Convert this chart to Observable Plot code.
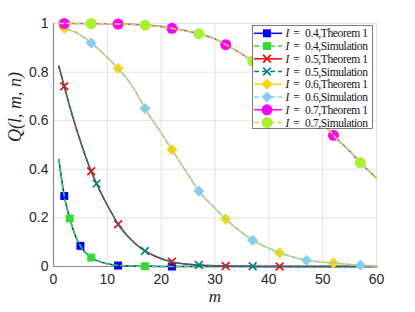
<!DOCTYPE html>
<html><head><meta charset="utf-8">
<script src="https://cdn.jsdelivr.net/npm/d3@7"></script>
<script src="https://cdn.jsdelivr.net/npm/@observablehq/plot@0.6"></script>
<style>
body{margin:0;background:#fff}
#wrap{position:relative;width:415px;height:312px}
#legend{position:absolute;left:252px;top:25px}
</style>
</head><body><div id="wrap"></div>
<script>
// ---- data ----
const xTicks = [0, 10, 20, 30, 40, 50, 60];
const yTicks = [0, 0.2, 0.4, 0.6, 0.8, 1];
const yTickLabels = ["0", "0.2", "0.4", "0.6", "0.8", "1"];

// curves [m, Q]
const curve04 = [[1,0.44],[2,0.29],[3,0.2],[4,0.13],[5,0.085],[6,0.056],[7,0.037],[8,0.025],[9,0.017],[10,0.011],[12,0.005],[14,0.002],[17,0.001],[20,0],[30,0],[45,0],[60,0]];
const curve05 = [[1,0.824],[2,0.742],[3,0.66],[4,0.585],[5,0.515],[6,0.45],[7,0.392],[8,0.341],[9,0.295],[10,0.252],[11,0.212],[12,0.174],[13,0.145],[14,0.12],[15,0.098],[16,0.08],[17,0.064],[19,0.041],[22,0.019],[25,0.009],[27,0.006],[30,0.003],[35,0.001],[40,0],[50,0],[60,0]];
const curve06 = [[1,0.99],[2,0.98],[4,0.965],[7,0.92],[10,0.86],[12,0.815],[15,0.73],[17,0.65],[20,0.55],[22,0.481],[25,0.378],[27,0.311],[30,0.24],[32,0.195],[35,0.14],[37,0.108],[40,0.075],[42,0.056],[45,0.036],[47,0.026],[50,0.018],[52,0.014],[55,0.008],[57,0.005],[60,0.002]];
const curve07 = [[1,1.0],[5,1.0],[10,0.999],[15,0.996],[20,0.988],[22,0.98],[25,0.968],[27,0.958],[30,0.937],[32,0.913],[35,0.874],[37,0.845],[40,0.8],[42,0.765],[45,0.71],[47,0.66],[50,0.59],[52,0.54],[55,0.475],[57,0.428],[60,0.363]];

// markers
const thM04 = [2, 5, 12, 22],            thQ04 = [0.29, 0.085, 0.004, 0];
const simM04 = [3, 7, 17],               simQ04 = [0.198, 0.037, 0.001];
const thM05 = [2, 7, 12, 22, 32, 42],    thQ05 = [0.742, 0.392, 0.174, 0.02, 0.002, 0];
const simM05 = [8, 17, 27, 37],          simQ05 = [0.341, 0.064, 0.006, 0.001];
const thM06 = [2, 12, 22, 32, 42, 52],   thQ06 = [0.98, 0.815, 0.481, 0.195, 0.056, 0.014];
const simM06 = [7, 17, 27, 37, 47, 57],  simQ06 = [0.92, 0.65, 0.311, 0.108, 0.026, 0.005];
const thM07 = [2, 12, 22, 32, 42, 52],   thQ07 = [1.0, 0.998, 0.98, 0.913, 0.765, 0.54];
const simM07 = [7, 17, 27, 37, 47, 57],  simQ07 = [1.0, 0.993, 0.958, 0.845, 0.66, 0.428];

const legendLabels = ["0.4,Theorem 1","0.4,Simulation","0.5,Theorem 1","0.5,Simulation","0.6,Theorem 1","0.6,Simulation","0.7,Theorem 1","0.7,Simulation"];

// ---- styles ----
const zip = (a, b) => a.map((v, i) => [v, b[i]]);
const series = [
  {curve: curve04, pts: zip(thM04, thQ04),  color: "#0000ff", symbol: "square",   r: 4.5, dash: null},
  {curve: curve04, pts: zip(simM04, simQ04),color: "#33dd33", symbol: "square",   r: 4.5, dash: "5,3"},
  {curve: curve05, pts: zip(thM05, thQ05),  color: "#ff0000", symbol: "times",    r: 3.6, dash: null},
  {curve: curve05, pts: zip(simM05, simQ05),color: "#008080", symbol: "times",    r: 3.6, dash: "5,3"},
  {curve: curve06, pts: zip(thM06, thQ06),  color: "#ffd700", symbol: "diamond2", r: 5.0, dash: null},
  {curve: curve06, pts: zip(simM06, simQ06),color: "#87ceeb", symbol: "diamond2", r: 5.0, dash: "5,3"},
  {curve: curve07, pts: zip(thM07, thQ07),  color: "#ff00ff", symbol: "circle",   r: 5.5, dash: null},
  {curve: curve07, pts: zip(simM07, simQ07),color: "#a8f030", symbol: "circle",   r: 5.5, dash: "5,3"}
];

const marks = [
  Plot.gridX(xTicks.slice(1), {stroke: "#e3e3e3", strokeOpacity: 1}),
  Plot.gridY(yTicks.slice(1), {stroke: "#e3e3e3", strokeOpacity: 1}),
  Plot.ruleX([0], {y1: 0, y2: 1, stroke: "#8a8a8a", strokeWidth: 1.2}),
  Plot.ruleY([0], {x1: 0, x2: 60, stroke: "#8a8a8a", strokeWidth: 1.2}),
  Plot.axisX({ticks: xTicks, tickSize: 0, tickPadding: 8, label: null, fontSize: 14, fontFamily: "Liberation Sans", fill: "#262626"}),
  Plot.axisY({ticks: yTicks, tickFormat: (d, i) => yTickLabels[i], tickSize: 0, tickPadding: 5, label: null, fontSize: 14, fontFamily: "Liberation Sans", fill: "#262626"})
];
for (const s of series) {
  marks.push(Plot.line(s.curve, {x: d => d[0], y: d => d[1], stroke: s.color, strokeWidth: 1.5, curve: "monotone-x", strokeDasharray: s.dash ?? undefined}));
  const stroked = s.symbol === "times";
  marks.push(Plot.dot(s.pts, {x: d => d[0], y: d => d[1], symbol: s.symbol, r: s.r,
    fill: stroked ? "none" : s.color, stroke: stroked ? s.color : "none", strokeWidth: stroked ? 1.6 : 0}));
}
marks.push(Plot.text(["Q(l, m, n)"], {frameAnchor: "left", dx: -38, dy: -3, rotate: -90, fontSize: 18, fontStyle: "italic", fontFamily: "Liberation Serif", fill: "#262626"}));
marks.push(Plot.text(["m"], {frameAnchor: "bottom", dy: 35, fontSize: 17, fontStyle: "italic", fontFamily: "Liberation Serif", fill: "#262626"}));

const chart = Plot.plot({
  width: 415, height: 312,
  marginLeft: 53, marginRight: 39, marginTop: 23, marginBottom: 46,
  x: {domain: [0, 60]},
  y: {domain: [0, 1]},
  style: {background: "#fff", overflow: "visible"},
  marks
});
const wrap = document.getElementById("wrap");
wrap.appendChild(chart);

// ---- legend ----
const lw = 120, lh = 103, rowH = 12.75, row0 = 8.3;
const leg = d3.select(wrap).append("svg").attr("id", "legend").attr("width", lw + 1).attr("height", lh + 1);
leg.append("rect").attr("x", 0.5).attr("y", 0.5).attr("width", lw).attr("height", lh).attr("fill", "#fff").attr("stroke", "#262626").attr("stroke-width", 0.6);
const symMap = {square: d3.symbolSquare, times: d3.symbolTimes, diamond2: d3.symbolDiamond2, circle: d3.symbolCircle};
series.forEach((s, i) => {
  const y = row0 + i * rowH;
  const g = leg.append("g").attr("font-family", "Liberation Serif").attr("font-size", 11.5).attr("fill", "#111");
  g.append("line").attr("x1", 2).attr("x2", 30).attr("y1", y).attr("y2", y).attr("stroke", s.color).attr("stroke-width", 1.5).attr("stroke-dasharray", s.dash);
  const stroked = s.symbol === "times";
  g.append("path").attr("transform", `translate(15,${y})`)
    .attr("d", d3.symbol(symMap[s.symbol], Math.PI * s.r * s.r)())
    .attr("fill", stroked ? "none" : s.color).attr("stroke", stroked ? s.color : "none").attr("stroke-width", 1.6);
  g.append("text").attr("x", 33.5).attr("y", y).attr("dy", "0.35em").attr("font-style", "italic").text("I");
  g.append("text").attr("x", 44.5).attr("y", y).attr("dy", "0.35em").attr("text-anchor", "middle").text("=");
  g.append("text").attr("x", 53).attr("y", y).attr("dy", "0.35em")
    .attr("textLength", 63).attr("lengthAdjust", "spacing").text(legendLabels[i]);
});
</script>
</body></html>
